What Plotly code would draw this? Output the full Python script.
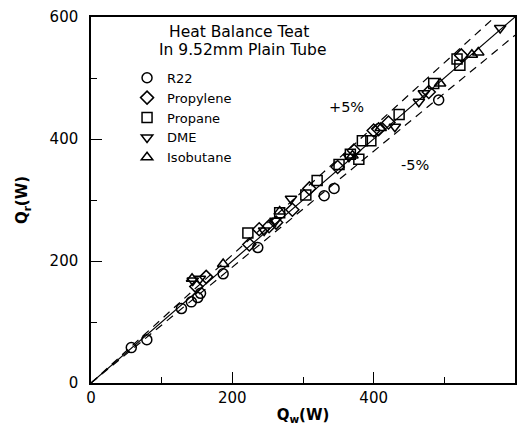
import plotly.graph_objects as go

# ---- data ----
r22_x = [57, 79, 128, 142, 151, 155, 187, 236, 330, 344, 492]
r22_y = [58, 71, 122, 133, 140, 147, 179, 222, 307, 319, 464]

propylene_x = [149, 163, 224, 238, 252, 262, 285, 309, 349, 372, 400, 407, 421, 478, 524]
propylene_y = [158, 174, 227, 252, 257, 263, 284, 319, 354, 381, 414, 416, 427, 477, 537]

propane_x = [222, 267, 304, 320, 351, 367, 379, 384, 396, 436, 485, 518, 522]
propane_y = [246, 279, 308, 332, 358, 375, 367, 397, 397, 440, 491, 531, 521]

dme_x = [144, 154, 245, 261, 283, 365, 430, 464, 471, 579]
dme_y = [168, 171, 250, 266, 302, 371, 420, 461, 475, 582]

isobutane_x = [143, 187, 267, 370, 410, 494, 539, 548]
isobutane_y = [171, 195, 281, 373, 418, 491, 538, 542]

line_x = [0, 600]
band = 0.05
tick_vals = [0, 200, 400, 600]
tick_text = ["0", "200", "400", "600"]

FONT = "DejaVu Sans"

fig = go.Figure()

# reference lines
fig.add_trace(go.Scatter(x=line_x, y=line_x, mode="lines",
                         line=dict(color="black", width=1.2), showlegend=False, hoverinfo="skip"))
fig.add_trace(go.Scatter(x=line_x, y=[v * (1 + band) for v in line_x], mode="lines",
                         line=dict(color="black", width=1.2, dash="8px,6px"), showlegend=False, hoverinfo="skip"))
fig.add_trace(go.Scatter(x=line_x, y=[v * (1 - band) for v in line_x], mode="lines",
                         line=dict(color="black", width=1.2, dash="8px,6px"), showlegend=False, hoverinfo="skip"))

series = [
    ("R22", r22_x, r22_y, "circle-open"),
    ("Propylene", propylene_x, propylene_y, "diamond-open"),
    ("Propane", propane_x, propane_y, "square-open"),
    ("DME", dme_x, dme_y, "triangle-down-open"),
    ("Isobutane", isobutane_x, isobutane_y, "triangle-up-open"),
]
for name, xs, ys, sym in series:
    fig.add_trace(go.Scatter(x=xs, y=ys, mode="markers", name=name,
                             marker=dict(symbol=sym, size=10, color="black",
                                         line=dict(color="black", width=1.5))))

axis_common = dict(
    range=[0, 600], tickvals=tick_vals, ticktext=tick_text,
    ticks="inside", ticklen=11, tickwidth=1.3, tickcolor="black",
    showline=True, linecolor="black", linewidth=1.5, mirror=True,
    showgrid=False, zeroline=False,
    tickfont=dict(family=FONT, size=15, color="black"),
    minor=dict(dtick=100, tick0=0, ticks="inside", ticklen=6, tickwidth=1.2, tickcolor="black"),
)

fig.update_layout(
    width=525, height=429,
    margin=dict(l=91, r=8, t=11, b=46),
    paper_bgcolor="white", plot_bgcolor="white",
    font=dict(family=FONT, color="black"),
    xaxis=dict(**axis_common, ticklabelstandoff=0,
               title=dict(text="<b>Q<sub>w</sub>(W)</b>", font=dict(family=FONT, size=15), standoff=4)),
    yaxis=dict(**axis_common, ticklabelstandoff=8,
               title=dict(text="<b>Q<sub>r</sub>(W)</b>", font=dict(family=FONT, size=15), standoff=18)),
    legend=dict(x=0.085, y=0.875, xanchor="left", yanchor="top",
                bgcolor="rgba(0,0,0,0)", borderwidth=0,
                font=dict(family=FONT, size=13, color="black"),
                tracegroupgap=0),
    showlegend=True,
    annotations=[
        dict(x=209, y=0.96, xref="x", yref="paper", text="Heat Balance Teat", showarrow=False,
             font=dict(family=FONT, size=15.5), xanchor="center", yanchor="middle"),
        dict(x=214, y=0.91, xref="x", yref="paper", text="In 9.52mm Plain Tube", showarrow=False,
             font=dict(family=FONT, size=15.5), xanchor="center", yanchor="middle"),
        dict(x=362, y=452, xref="x", yref="y", text="+5%", showarrow=False,
             font=dict(family=FONT, size=14.5), xanchor="center", yanchor="middle"),
        dict(x=458, y=358, xref="x", yref="y", text="-5%", showarrow=False,
             font=dict(family=FONT, size=14.5), xanchor="center", yanchor="middle"),
    ],
)

fig.write_html("out.html")
